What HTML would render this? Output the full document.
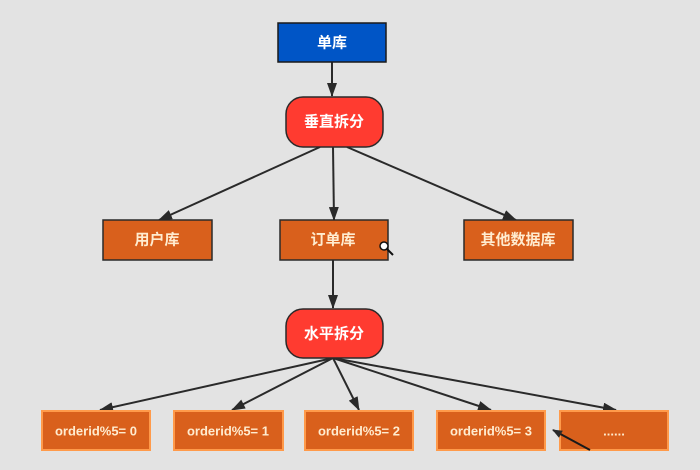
<!DOCTYPE html>
<html><head><meta charset="utf-8"><style>
html,body{margin:0;padding:0;background:#e3e3e3;}
svg{display:block;}
text{font-family:"Liberation Sans","Noto Sans CJK SC",sans-serif;font-weight:bold;text-anchor:middle;dominant-baseline:central;}
</style></head><body>
<svg width="700" height="470" viewBox="0 0 700 470" xmlns="http://www.w3.org/2000/svg">
<defs>
<marker id="a" markerWidth="10" markerHeight="8" refX="9" refY="4" orient="auto" markerUnits="userSpaceOnUse">
<path d="M0,0 L10,4 L0,8 z" fill="#2a2a2a"/>
</marker>
<marker id="b" markerWidth="14" markerHeight="10" refX="13" refY="5" orient="auto" markerUnits="userSpaceOnUse">
<path d="M0,0 L14,5 L0,10 z" fill="#2a2a2a"/>
</marker>
</defs>
<rect width="700" height="470" fill="#e3e3e3"/>
<g stroke="#2a2a2a" stroke-width="2" fill="none">
<line x1="332" y1="62" x2="332" y2="96" marker-end="url(#b)"/>
<line x1="320" y1="147" x2="159" y2="220" marker-end="url(#b)"/>
<line x1="333" y1="147" x2="334" y2="220" marker-end="url(#b)"/>
<line x1="347" y1="147" x2="516" y2="220" marker-end="url(#b)"/>
<line x1="333" y1="260" x2="333" y2="308" marker-end="url(#b)"/>
<line x1="333" y1="358" x2="100" y2="410" marker-end="url(#b)"/>
<line x1="333" y1="358" x2="232" y2="410" marker-end="url(#b)"/>
<line x1="333" y1="358" x2="359" y2="410" marker-end="url(#b)"/>
<line x1="333" y1="358" x2="491" y2="410" marker-end="url(#b)"/>
<line x1="333" y1="358" x2="616" y2="410" marker-end="url(#b)"/>
</g>
<rect x="278" y="23" width="108" height="39" fill="#0055c6" stroke="#1a1a1a" stroke-width="1.5"/>
<text x="332" y="43" fill="#fff" font-size="15">单库</text>
<rect x="286" y="97" width="97" height="50" rx="17" fill="#ff3b30" stroke="#2a2a2a" stroke-width="1.5"/>
<text x="334" y="122" fill="#fff" font-size="15">垂直拆分</text>
<g fill="#d9601c" stroke="#2a2a2a" stroke-width="1.5">
<rect x="103" y="220" width="109" height="40"/>
<rect x="280" y="220" width="108" height="40"/>
<rect x="464" y="220" width="109" height="40"/>
</g>
<g fill="#ffecd0" font-size="15">
<text x="157" y="240">用户库</text>
<text x="333" y="240">订单库</text>
<text x="518" y="240">其他数据库</text>
</g>
<rect x="286" y="309" width="97" height="49" rx="17" fill="#ff3b30" stroke="#2a2a2a" stroke-width="1.5"/>
<text x="334" y="334" fill="#fff" font-size="15">水平拆分</text>
<g fill="#d9601c" stroke="#ff9a4a" stroke-width="2">
<rect x="42" y="411" width="108" height="39"/>
<rect x="174" y="411" width="109" height="39"/>
<rect x="305" y="411" width="108" height="39"/>
<rect x="437" y="411" width="108" height="39"/>
<rect x="560" y="411" width="108" height="39"/>
</g>
<g fill="#ffecd0" font-size="13">
<text x="96" y="431">orderid%5= 0</text>
<text x="228" y="431">orderid%5= 1</text>
<text x="359" y="431">orderid%5= 2</text>
<text x="491" y="431">orderid%5= 3</text>
<text x="614" y="431">......</text>
</g>
<line x1="590" y1="450" x2="553" y2="430" stroke="#1a1a1a" stroke-width="2" marker-end="url(#a)"/>
<circle cx="384" cy="246" r="4" fill="#fff" stroke="#111" stroke-width="1.5"/>
<line x1="387" y1="249" x2="393" y2="255" stroke="#111" stroke-width="2"/>
</svg>
</body></html>
